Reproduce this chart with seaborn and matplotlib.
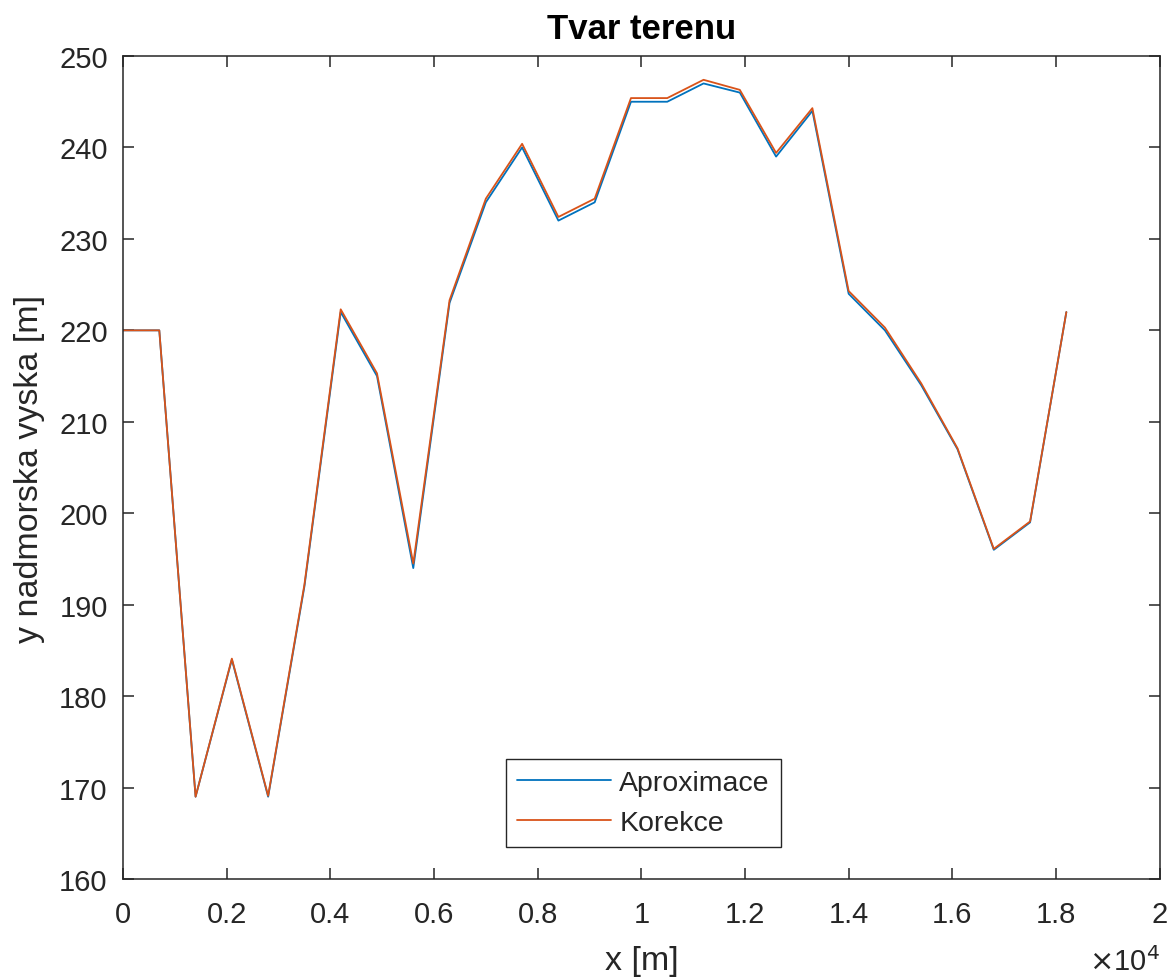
import matplotlib
matplotlib.use("Agg")
import matplotlib.pyplot as plt
import seaborn as sns
import pandas as pd
from matplotlib.ticker import FuncFormatter

# terrain profile, x in metres
x_m = [0, 700, 1400, 2100, 2800, 3500, 4200, 4900, 5600, 6300, 7000, 7700, 8400, 9100,
       9800, 10500, 11200, 11900, 12600, 13300, 14000, 14700, 15400, 16100, 16800, 17500, 18200]
aproximace = [220, 220, 169, 184, 169, 192, 222, 215, 194, 223, 234, 240, 232, 234,
              245, 245, 247, 246, 239, 244, 224, 220, 214, 207, 196, 199, 222]
korekce = [220, 220, 169, 184.1, 169.1, 192.2, 222.3, 215.3, 194.5, 223.3, 234.4, 240.4, 232.4, 234.4,
           245.4, 245.4, 247.4, 246.3, 239.4, 244.3, 224.3, 220.3, 214.2, 207.1, 196.1, 199.1, 222]

df = pd.concat([
    pd.DataFrame({'x': x_m, 'y': aproximace, 'serie': 'Aproximace'}),
    pd.DataFrame({'x': x_m, 'y': korekce, 'serie': 'Korekce'}),
])

sns.set_style("ticks")
plt.rcParams['font.family'] = ['Liberation Sans', 'DejaVu Sans']
dark = '#262626'
plt.rc('axes', edgecolor=dark, labelcolor=dark, linewidth=1.1)
plt.rc('xtick', color=dark, direction='in', top=True, labelsize=21)
plt.rc('ytick', color=dark, direction='in', right=True, labelsize=21)

fig = plt.figure(figsize=(11.76, 9.78), dpi=100)
ax = fig.add_axes([0.1046, 0.1002, 0.8815, 0.8415])

sns.lineplot(data=df, x='x', y='y', hue='serie', palette=['#0072BD', '#D95319'],
             linewidth=1.3, ax=ax, estimator=None, sort=False)

ax.set_xlim(0, 20000)
ax.set_ylim(160, 250)
ax.set_xticks([0, 2000, 4000, 6000, 8000, 10000, 12000, 14000, 16000, 18000, 20000])
ax.set_yticks(range(160, 251, 10))
ax.xaxis.set_major_formatter(FuncFormatter(lambda v, p: f"{v/1e4:g}"))
ax.tick_params(length=8, width=1.1)
ax.tick_params(axis='x', pad=15)
ax.tick_params(axis='y', pad=11)
ax.text(1.0, -0.111, r'$\times$10$^4$', transform=ax.transAxes, ha='right', va='baseline',
        fontsize=21, color=dark)

ax.set_xlabel('x [m]', fontsize=24.5, labelpad=12)
ax.set_ylabel('y nadmorska vyska [m]', fontsize=24.5, labelpad=10)
ax.set_title('Tvar terenu', fontsize=25, fontweight='bold', color='black', pad=13)

leg = ax.legend(loc='lower center', bbox_to_anchor=(0.502, 0.039), borderaxespad=0,
                fontsize=20.5, handlelength=3.3, fancybox=False, framealpha=1,
                edgecolor=dark, borderpad=0.38, labelspacing=0.5, handletextpad=0.3)
leg.get_frame().set_linewidth(1.0)
leg.set_title(None)

fig.savefig('out.png', dpi=100)
